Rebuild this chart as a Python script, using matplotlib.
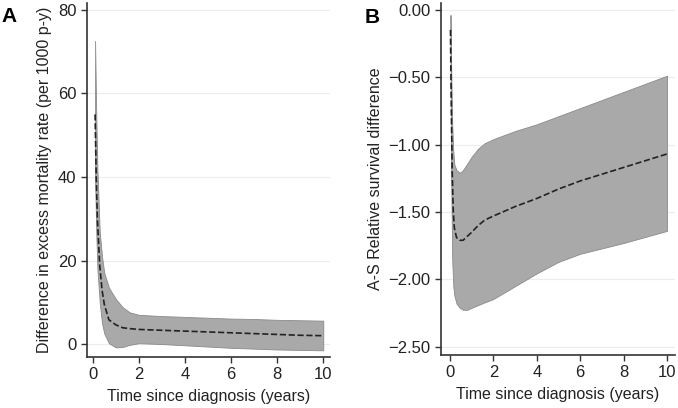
import numpy as np
import matplotlib.pyplot as plt

# Panel A: difference in excess mortality rate (per 1000 p-y)
t_a = [0.1, 0.15, 0.2, 0.3, 0.4, 0.5, 0.7, 1.0, 1.3, 1.6, 2, 3, 4, 5, 6, 7, 8, 9, 10]
est_a = [55, 40, 30, 19, 13, 9.5, 5.8, 4.6, 3.9, 3.7, 3.5, 3.3, 3.1, 2.9, 2.7, 2.5, 2.3, 2.1, 2.0]
hi_a = [72.6, 55, 42, 27, 21, 17, 13.5, 10.8, 8.8, 7.6, 7.0, 6.7, 6.5, 6.3, 6.1, 6.0, 5.8, 5.7, 5.6]
lo_a = [40, 27, 18, 10, 5, 2.5, 0.2, -0.8, -0.7, -0.2, 0.2, 0.0, -0.3, -0.6, -0.9, -1.1, -1.3, -1.4, -1.5]

# Panel B: age-standardised relative survival difference
t_b = [0.02, 0.05, 0.1, 0.15, 0.2, 0.3, 0.45, 0.6, 0.8, 1.0, 1.3, 1.6, 2, 3, 4, 5, 6, 7, 8, 9, 10]
est_b = [-0.15, -0.6, -1.2, -1.5, -1.62, -1.69, -1.71, -1.71, -1.68, -1.65, -1.60, -1.56, -1.53,
         -1.46, -1.40, -1.33, -1.27, -1.22, -1.17, -1.12, -1.07]
hi_b = [-0.04, -0.4, -0.85, -1.05, -1.15, -1.19, -1.21, -1.19, -1.14, -1.09, -1.03, -0.99, -0.96,
        -0.90, -0.85, -0.79, -0.73, -0.67, -0.61, -0.55, -0.49]
lo_b = [-0.3, -1.2, -1.85, -2.05, -2.12, -2.18, -2.21, -2.225, -2.225, -2.21, -2.19, -2.17, -2.145,
        -2.05, -1.955, -1.87, -1.81, -1.77, -1.73, -1.685, -1.64]

x_ticks = [0, 2, 4, 6, 8, 10]
y_ticks_a = [0, 20, 40, 60, 80]
y_ticks_b = [0.0, -0.5, -1.0, -1.5, -2.0, -2.5]

plt.rcParams['font.family'] = ['Liberation Sans', 'DejaVu Sans']

fig = plt.figure(figsize=(6.78, 4.08), dpi=100)
ax_a = fig.add_axes([0.128, 0.125, 0.359, 0.868])
ax_b = fig.add_axes([0.650, 0.130, 0.346, 0.863])


def style(ax):
    for s in ['top', 'right']:
        ax.spines[s].set_visible(False)
    for s in ['left', 'bottom']:
        ax.spines[s].set_color('#333333')
        ax.spines[s].set_linewidth(1.2)
    ax.tick_params(direction='out', length=4, width=1, color='#333333',
                   labelsize=12, labelcolor='#222222')
    ax.yaxis.grid(True, color='#ececec', linewidth=0.8)
    ax.set_axisbelow(True)
    ax.set_xticks(x_ticks)
    ax.set_xlabel('Time since diagnosis (years)', fontsize=11.5, color='#222222', labelpad=5)


# Panel A
ax_a.fill_between(t_a, lo_a, hi_a, color='#a9a9a9', edgecolor='#8a8a8a', linewidth=0.6)
ax_a.plot(t_a, est_a, color='#222222', linestyle='--', linewidth=1.2)
ax_a.set_xlim(-0.26, 10.3)
ax_a.set_ylim(-3.1, 81.7)
ax_a.set_yticks(y_ticks_a)
ax_a.set_ylabel('Difference in excess mortality rate (per 1000 p-y)', fontsize=11.5, color='#222222',
                labelpad=4)
style(ax_a)
fig.text(0.002, 0.946, 'A', fontsize=15, fontweight='bold', va='baseline')

# Panel B
ax_b.fill_between(t_b, lo_b, hi_b, color='#a9a9a9', edgecolor='#8a8a8a', linewidth=0.6)
ax_b.plot(t_b, est_b, color='#222222', linestyle='--', linewidth=1.2)
ax_b.set_xlim(-0.43, 10.38)
ax_b.set_ylim(-2.56, 0.05)
ax_b.set_yticks(y_ticks_b)
ax_b.set_yticklabels(['0.00', '\u22120.50', '\u22121.00', '\u22121.50', '\u22122.00', '\u22122.50'])
ax_b.set_ylabel('A-S Relative survival difference', fontsize=11.5, color='#222222', labelpad=4)
style(ax_b)
fig.text(0.538, 0.944, 'B', fontsize=15, fontweight='bold', va='baseline')

fig.savefig('out.png', dpi=100)
